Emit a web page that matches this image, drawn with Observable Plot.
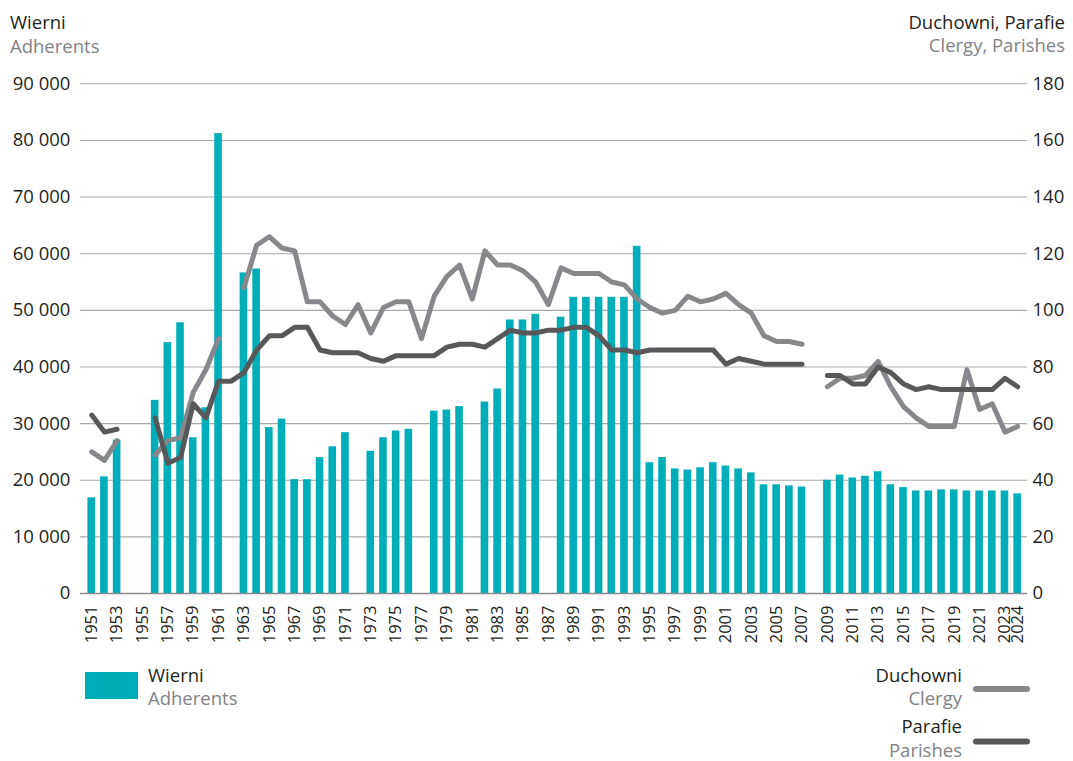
<!DOCTYPE html>
<html>
<head>
<meta charset="utf-8">
<script src="https://cdn.jsdelivr.net/npm/d3@7"></script>
<script src="https://cdn.jsdelivr.net/npm/@observablehq/plot@0.6"></script>
<style>
  html, body { margin: 0; padding: 0; background: #fff; }
  #wrap { position: relative; width: 1073px; height: 761px; overflow: hidden; font-family: "Open Sans", sans-serif; }
  #wrap > svg { position: absolute; left: 0; top: 0; }
</style>
</head>
<body>
<div id="wrap"></div>
<script>
const years = [1951,1952,1953,1954,1955,1956,1957,1958,1959,1960,1961,1962,1963,1964,1965,1966,1967,1968,1969,1970,
  1971,1972,1973,1974,1975,1976,1977,1978,1979,1980,1981,1982,1983,1984,1985,1986,1987,1988,1989,1990,
  1991,1992,1993,1994,1995,1996,1997,1998,1999,2000,2001,2002,2003,2004,2005,2006,2007,2008,2009,2010,
  2011,2012,2013,2014,2015,2016,2017,2018,2019,2020,2021,2022,2023,2024];

// Wierni / Adherents
const adherents = [16900,20600,27100,null,null,34100,44300,47800,27500,32800,81200,null,56600,57300,29300,30800,20100,20100,24000,25900,
  28400,null,25100,27500,28700,29000,null,32200,32400,33000,null,33800,36100,48300,48300,49300,null,48800,52300,52300,
  52300,52300,52300,61300,23100,24000,22000,21800,22200,23100,22500,22000,21300,19200,19200,19000,18800,null,20000,20900,
  20400,20700,21500,19200,18700,18100,18100,18300,18300,18100,18100,18100,18100,17600];

// Duchowni / Clergy
const clergy = [50,47,54,null,null,49,54,55,71,79,90,null,108,123,126,122,121,103,103,98,
  95,102,92,101,103,103,90,105,112,116,104,121,116,116,114,110,102,115,113,113,
  113,110,109,104,101,99,100,105,103,104,106,102,99,91,89,89,88,null,73,76,
  76,77,82,73,66,62,59,59,59,79,65,67,57,59];

// Parafie / Parishes
const parishes = [63,57,58,null,null,62,46,48,67,62,75,75,78,86,91,91,94,94,86,85,
  85,85,83,82,84,84,84,84,87,88,88,87,90,93,92,92,93,93,94,94,
  91,86,86,85,86,86,86,86,86,86,81,83,82,81,81,81,81,null,77,77,
  74,74,80,78,74,72,73,72,72,72,72,72,76,73];

const xTicks = [1951,1953,1955,1957,1959,1961,1963,1965,1967,1969,1971,1973,1975,1977,1979,1981,1983,1985,1987,1989,
  1991,1993,1995,1997,1999,2001,2003,2005,2007,2009,2011,2013,2015,2017,2019,2021,2023,2024];
const leftTicks = [0,10000,20000,30000,40000,50000,60000,70000,80000,90000];
const rightTicks = [0,20,40,60,80,100,120,140,160,180];
const RATIO = 500; // 180 on the right axis = 90 000 on the left axis

const table = years.map((year, i) => ({year, adherents: adherents[i], clergy: clergy[i], parishes: parishes[i]}));

const TEAL = "#00aeb9", CLERGY = "#87888b", PARISH = "#58585a", INK = "#231f20", SUB = "#818285";
const fmt = d => d3.format(",")(d).replace(/,/g, " ");

const chart = Plot.plot({
  width: 1073,
  height: 761,
  marginTop: 83.3,
  marginBottom: 168,
  marginLeft: 84.9,
  marginRight: 49.5,
  style: {fontFamily: "Open Sans, sans-serif", fontSize: "18.5px", color: INK, background: "transparent", overflow: "visible"},
  x: {type: "band", domain: years, paddingInner: 0.4, paddingOuter: 0.2},
  y: {domain: [0, 90000]},
  marks: [
    Plot.ruleY(leftTicks.filter(d => d > 0), {stroke: "#a8a9ab", strokeWidth: 1.1, insetLeft: -4.9, insetRight: -3.5}),
    Plot.barY(table.filter(d => d.adherents != null), {x: "year", y: "adherents", fill: TEAL}),
    Plot.ruleY([0], {stroke: "#8a8a8a", strokeWidth: 1.6, insetLeft: -4.9, insetRight: -3.5}),
    Plot.line(table, {x: "year", y: d => d.clergy == null ? NaN : d.clergy * RATIO, stroke: CLERGY, strokeWidth: 5, strokeLinejoin: "round", strokeLinecap: "round"}),
    Plot.line(table, {x: "year", y: d => d.parishes == null ? NaN : d.parishes * RATIO, stroke: PARISH, strokeWidth: 5, strokeLinejoin: "round", strokeLinecap: "round"}),
    Plot.axisY({anchor: "left", ticks: leftTicks, tickFormat: fmt, tickSize: 0, tickPadding: 15, label: null}),
    Plot.axisY({anchor: "right", ticks: rightTicks.map(d => d * RATIO), tickFormat: d => String(d / RATIO), tickSize: 0, tickPadding: 8.5, label: null}),
    Plot.axisX({ticks: xTicks, tickFormat: d => String(d), tickRotate: -90, tickSize: 0, tickPadding: 12, fontSize: 16.5, label: null})
  ]
});
document.getElementById("wrap").appendChild(chart);

// Titles and legend (overlay)
const ns = "http://www.w3.org/2000/svg";
const ov = document.createElementNS(ns, "svg");
ov.setAttribute("width", 1073); ov.setAttribute("height", 761);
ov.style.fontFamily = "Open Sans, sans-serif";
ov.style.pointerEvents = "none";
function txt(s, x, y, fill, anchor) {
  const t = document.createElementNS(ns, "text");
  t.setAttribute("x", x); t.setAttribute("y", y);
  t.setAttribute("fill", fill); t.setAttribute("font-size", "18.5px");
  t.setAttribute("text-anchor", anchor || "start");
  t.textContent = s; ov.appendChild(t);
}
function el(name, attrs) {
  const e = document.createElementNS(ns, name);
  for (const k in attrs) e.setAttribute(k, attrs[k]);
  ov.appendChild(e);
}
txt("Wierni", 10, 29.3, INK);
txt("Adherents", 10, 53, SUB);
txt("Duchowni, Parafie", 1065, 29, INK, "end");
txt("Clergy, Parishes", 1065, 52, SUB, "end");
// legend bottom-left
el("rect", {x: 85, y: 672, width: 53, height: 27, fill: TEAL});
txt("Wierni", 148, 682, INK);
txt("Adherents", 148, 705, SUB);
// legend bottom-right
txt("Duchowni", 962, 682, INK, "end");
txt("Clergy", 962, 705, SUB, "end");
el("line", {x1: 976, x2: 1027, y1: 689, y2: 689, stroke: CLERGY, "stroke-width": 6, "stroke-linecap": "round"});
txt("Parafie", 962, 733, INK, "end");
txt("Parishes", 962, 756.5, SUB, "end");
el("line", {x1: 976, x2: 1027, y1: 741.5, y2: 741.5, stroke: PARISH, "stroke-width": 6, "stroke-linecap": "round"});
document.getElementById("wrap").appendChild(ov);
</script>
</body>
</html>
